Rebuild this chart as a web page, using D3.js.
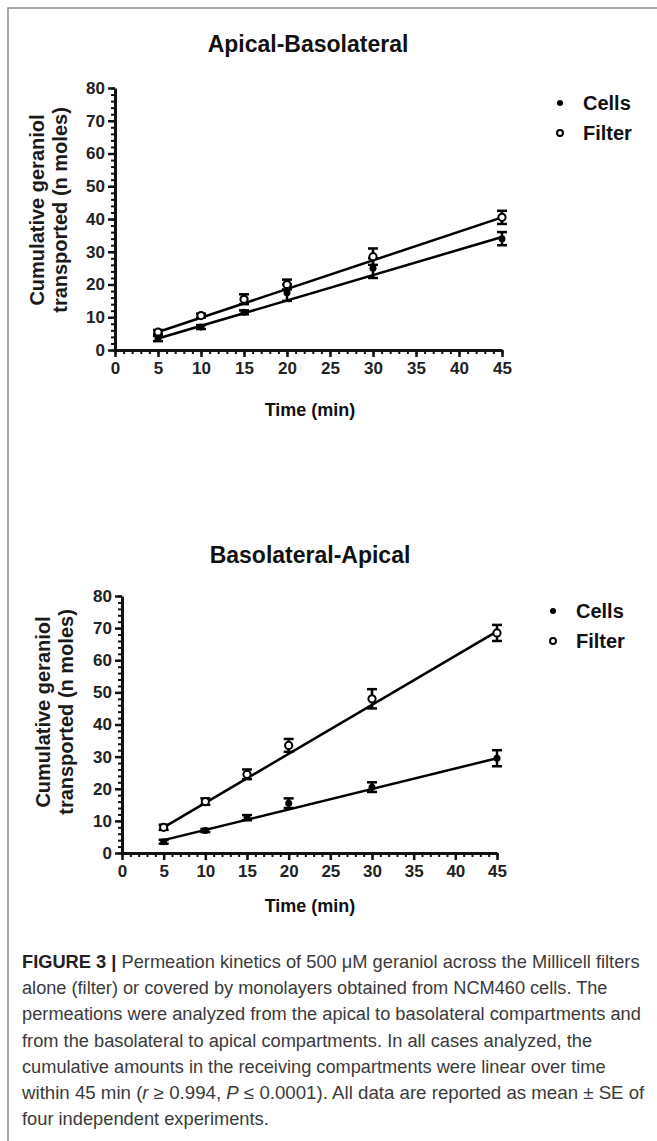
<!DOCTYPE html>
<html>
<head>
<meta charset="utf-8">
<script src="https://cdn.jsdelivr.net/npm/d3@7"></script>
<style>
  html, body { margin: 0; padding: 0; background: #fff; }
  svg { display: block; }
</style>
</head>
<body>
<svg id="fig" width="657" height="1141"></svg>
<script>
// ---------------- DATA ----------------
const times = [5, 10, 15, 20, 30, 45];
const fitX = [5, 45];

// Apical-Basolateral
const abCells = [3.5, 7, 11.5, 17.5, 25, 34];
const abCellsErr = [0.8, 0.6, 0.6, 2.5, 3, 2];
const abFilter = [5.5, 10.5, 15.5, 20, 28.5, 40.5];
const abFilterErr = [0.6, 0.6, 1.5, 1.5, 2.5, 2];
const abFitCells = [3.5, 34.5];
const abFitFilter = [5.5, 40.5];

// Basolateral-Apical
const baCells = [3.5, 7, 11, 15.5, 20.5, 29.5];
const baCellsErr = [0.6, 0.5, 0.8, 1.5, 1.5, 2.5];
const baFilter = [8, 16, 24.5, 33.5, 48, 68.5];
const baFilterErr = [0.8, 1, 1.5, 2, 3, 2.5];
const baFitCells = [4, 29.5];
const baFitFilter = [8, 69];

const xTicks = [0, 5, 10, 15, 20, 25, 30, 35, 40, 45];
const yTicks = [0, 10, 20, 30, 40, 50, 60, 70, 80];
const legendLabels = ["Cells", "Filter"];
const titles = ["Apical-Basolateral", "Basolateral-Apical"];
const yTitle = ["Cumulative geraniol", "transported (n moles)"];
const xTitle = "Time (min)";

const captionLines = [
  [["FIGURE 3 | ", true], ["Permeation kinetics of 500 \u03BCM geraniol across the Millicell filters", false]],
  [["alone (filter) or covered by monolayers obtained from NCM460 cells. The", false]],
  [["permeations were analyzed from the apical to basolateral compartments and", false]],
  [["from the basolateral to apical compartments. In all cases analyzed, the", false]],
  [["cumulative amounts in the receiving compartments were linear over time", false]],
  [["within 45 min (", false], ["r", false, true], [" \u2265 0.994, ", false], ["P", false, true], [" \u2264 0.0001). All data are reported as mean \u00B1 SE of", false]],
  [["four independent experiments.", false]]
];
const captionLineEnds = [640, 608, 641, 592, 606, 645, 269];

// ---------------- DRAW ----------------
const svg = d3.select("#fig");
const FONT = "'Liberation Sans', Arial, sans-serif";

// figure frame
svg.append("rect").attr("x", 8).attr("y", 8).attr("width", 700).attr("height", 1200)
  .attr("fill", "none").attr("stroke", "#8a8a8a").attr("stroke-width", 1.5);

function panel(cfg) {
  const g = svg.append("g");
  const x = d3.scaleLinear().domain([0, 45]).range([cfg.x0, cfg.x1]);
  const y = d3.scaleLinear().domain([0, 80]).range([cfg.y0, cfg.y1]);

  // title
  g.append("text").attr("x", cfg.titleX).attr("y", cfg.titleY)
    .attr("text-anchor", "middle").attr("font-family", FONT).attr("font-weight", "bold")
    .attr("font-size", 23).attr("fill", "#111").text(cfg.title);

  // minor ticks
  const yMinor = d3.range(0, 81, 2);
  const xMinor = d3.range(0, 46, 1);
  const yAxMinor = g.append("g").attr("transform", `translate(${cfg.x0},0)`)
    .call(d3.axisLeft(y).tickValues(yMinor).tickSize(4).tickFormat(""));
  const xAxMinor = g.append("g").attr("transform", `translate(0,${cfg.y0})`)
    .call(d3.axisBottom(x).tickValues(xMinor).tickSize(4).tickFormat(""));
  [yAxMinor, xAxMinor].forEach(a => {
    a.select(".domain").remove();
    a.selectAll("line").attr("stroke", "#111").attr("stroke-width", 2);
  });

  // major axes
  const yAx = g.append("g").attr("transform", `translate(${cfg.x0},0)`)
    .call(d3.axisLeft(y).tickValues(yTicks).tickSize(7).tickSizeOuter(0).tickPadding(3));
  const xAx = g.append("g").attr("transform", `translate(0,${cfg.y0})`)
    .call(d3.axisBottom(x).tickValues(xTicks).tickSize(7).tickSizeOuter(0).tickPadding(5));
  [yAx, xAx].forEach(a => {
    a.select(".domain").attr("stroke", "#111").attr("stroke-width", 3);
    a.selectAll(".tick line").attr("stroke", "#111").attr("stroke-width", 2.5);
    a.selectAll(".tick text").attr("font-family", FONT).attr("font-weight", "bold")
      .attr("font-size", 17).attr("fill", "#222");
  });

  // axis titles
  const yt = g.append("text").attr("font-family", FONT).attr("font-weight", "bold")
    .attr("font-size", 20).attr("fill", "#1a1a1a").attr("text-anchor", "middle")
    .attr("transform", `translate(${cfg.yTitleX},${cfg.yTitleY}) rotate(-90)`);
  yTitle.forEach((t, i) => {
    yt.append("tspan").attr("x", 0).attr("y", i * 23).text(t);
  });
  g.append("text").attr("x", cfg.xTitleX).attr("y", cfg.xTitleY)
    .attr("text-anchor", "middle").attr("font-family", FONT).attr("font-weight", "bold")
    .attr("font-size", 18).attr("fill", "#111").text(xTitle);

  // fit lines
  const line = d3.line().x(d => x(d[0])).y(d => y(d[1]));
  [cfg.fitCells, cfg.fitFilter].forEach(f => {
    g.append("path").datum(fitX.map((t, i) => [t, f[i]]))
      .attr("d", line).attr("fill", "none").attr("stroke", "#000").attr("stroke-width", 2.5);
  });

  // error bars
  function errBars(vals, errs) {
    const d = times.map((t, i) => ({ t, v: vals[i], e: errs[i] }));
    const eb = g.append("g").attr("stroke", "#000").attr("stroke-width", 2.5);
    eb.selectAll("line.v").data(d).join("line")
      .attr("x1", p => x(p.t)).attr("x2", p => x(p.t))
      .attr("y1", p => y(p.v - p.e)).attr("y2", p => y(p.v + p.e));
    eb.selectAll("line.t").data(d).join("line")
      .attr("x1", p => x(p.t) - 5).attr("x2", p => x(p.t) + 5)
      .attr("y1", p => y(p.v + p.e)).attr("y2", p => y(p.v + p.e));
    eb.selectAll("line.b").data(d).join("line")
      .attr("x1", p => x(p.t) - 5).attr("x2", p => x(p.t) + 5)
      .attr("y1", p => y(p.v - p.e)).attr("y2", p => y(p.v - p.e));
  }
  errBars(cfg.cells, cfg.cellsErr);
  errBars(cfg.filter, cfg.filterErr);

  // markers
  g.append("g").selectAll("circle").data(times.map((t, i) => [t, cfg.cells[i]])).join("circle")
    .attr("cx", d => x(d[0])).attr("cy", d => y(d[1])).attr("r", 3.5).attr("fill", "#000");
  g.append("g").selectAll("circle").data(times.map((t, i) => [t, cfg.filter[i]])).join("circle")
    .attr("cx", d => x(d[0])).attr("cy", d => y(d[1])).attr("r", 3.6)
    .attr("fill", "#fff").attr("stroke", "#000").attr("stroke-width", 2);

  // legend
  legendLabels.forEach((lab, i) => {
    const ly = cfg.legY + i * 30;
    if (i === 0) {
      g.append("circle").attr("cx", cfg.legX).attr("cy", ly).attr("r", 3).attr("fill", "#000");
    } else {
      g.append("circle").attr("cx", cfg.legX).attr("cy", ly).attr("r", 3)
        .attr("fill", "#fff").attr("stroke", "#000").attr("stroke-width", 2);
    }
    g.append("text").attr("x", cfg.legX + 23).attr("y", ly + 7)
      .attr("font-family", FONT).attr("font-weight", "bold").attr("font-size", 20)
      .attr("fill", "#111").text(lab);
  });
}

panel({
  title: titles[0], titleX: 308, titleY: 52,
  x0: 115, x1: 502, y0: 350, y1: 88,
  yTitleX: 44, yTitleY: 210, xTitleX: 310, xTitleY: 416,
  cells: abCells, cellsErr: abCellsErr, filter: abFilter, filterErr: abFilterErr,
  fitCells: abFitCells, fitFilter: abFitFilter,
  legX: 560, legY: 103
});

panel({
  title: titles[1], titleX: 310, titleY: 563,
  x0: 122, x1: 497, y0: 853, y1: 596,
  yTitleX: 50, yTitleY: 712, xTitleX: 310, xTitleY: 912,
  cells: baCells, cellsErr: baCellsErr, filter: baFilter, filterErr: baFilterErr,
  fitCells: baFitCells, fitFilter: baFitFilter,
  legX: 553, legY: 611
});

// caption
const cap = svg.append("g");
captionLines.forEach((segs, i) => {
  const t = cap.append("text")
    .attr("font-family", FONT).attr("font-size", 18).attr("fill", "#3a3a3a");
  segs.forEach(s => {
    const ts = t.append("tspan").text(s[0]);
    if (s[1]) ts.attr("font-weight", "bold").attr("fill", "#222");
    if (s[2]) ts.attr("font-style", "italic");
  });
  const w = t.node().getComputedTextLength();
  const sx = (captionLineEnds[i] - 22) / w;
  t.attr("transform", `translate(22,${968 + i * 26.2}) scale(${sx},1)`);
});
</script>
</body>
</html>
